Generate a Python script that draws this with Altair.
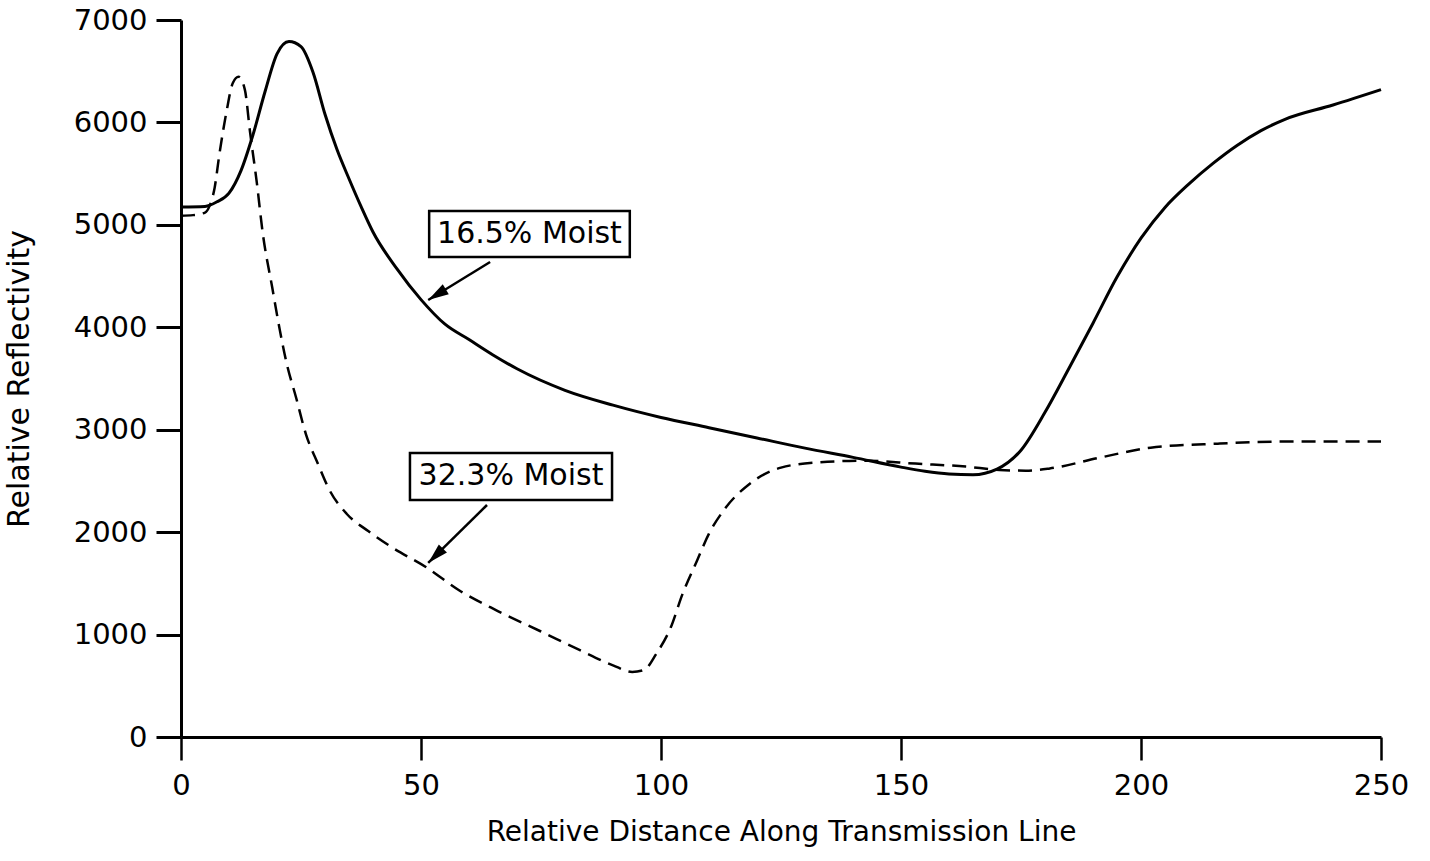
import altair as alt
import pandas as pd
import numpy as np

# ---- data ----
solid_x = [0, 5, 7.5, 10, 12.5, 15, 17.5, 20, 22.5, 25, 27.5, 30, 32.5, 35, 37.5, 40, 45,
           50, 55, 60, 65, 70, 80, 90, 100, 110, 120, 130, 140, 150, 155, 160, 165, 170,
           175, 180, 185, 190, 195, 200, 205, 210, 215, 220, 225, 230, 240, 250]
solid_y = [5175, 5180, 5225, 5310, 5530, 5880, 6300, 6670, 6790, 6740, 6490, 6080, 5735,
           5450, 5180, 4930, 4570, 4270, 4030, 3880, 3730, 3595, 3385, 3240, 3120, 3020,
           2920, 2820, 2730, 2635, 2595, 2568, 2560, 2615, 2800, 3170, 3600, 4040, 4490,
           4870, 5170, 5400, 5600, 5775, 5920, 6030, 6170, 6320]

dashed_x = [0, 2.5, 5, 6, 7, 8, 9.5, 10.8, 12, 13.3, 14.4, 15.8, 17, 19, 20.6, 22, 24, 26,
            28.5, 31, 34.5, 39, 44, 51, 58, 66, 75, 83, 90, 94, 96.5, 99, 102, 104.5,
            107.5, 110, 113.5, 118.5, 125, 132.5, 143, 153, 163.5, 170.5, 176, 181, 191.5,
            202, 216, 230, 250]
dashed_y = [5090, 5095, 5120, 5190, 5360, 5690, 6110, 6385, 6445, 6320, 5900, 5410, 4930,
            4390, 3970, 3650, 3310, 2960, 2670, 2405, 2180, 2010, 1850, 1660, 1430, 1230,
            1030, 850, 700, 635, 655, 811, 1066, 1398, 1721, 1985, 2240, 2473, 2630,
            2680, 2698, 2669, 2640, 2607, 2600, 2622, 2728, 2825, 2864, 2884, 2884]

label_text = ["16.5% Moist", "32.3% Moist"]
box_x1 = [51.7, 47.7]
box_x2 = [93.5, 89.8]
box_y1 = [4686, 2314]
box_y2 = [5135, 2773]
tail_x = [64.4, 63.75]
tail_y = [4637, 2265]
tip_x = [51.5, 51.5]
tip_y = [4266, 1699]

x_ticks = [0, 50, 100, 150, 200, 250]
y_ticks = [0, 1000, 2000, 3000, 4000, 5000, 6000, 7000]

W, H = 1200, 717
X_MAX, Y_MAX = 250, 7000
FONT = "DejaVu Sans"

solid = pd.DataFrame({"x": solid_x, "y": solid_y})
dashed = pd.DataFrame({"x": dashed_x, "y": dashed_y})

ann = pd.DataFrame({
    "label": label_text,
    "x1": box_x1, "x2": box_x2, "y1": box_y1, "y2": box_y2,
    "tx": tail_x, "ty": tail_y, "hx": tip_x, "hy": tip_y,
})
ann["cx"] = (ann["x1"] + ann["x2"]) / 2
ann["cy"] = (ann["y1"] + ann["y2"]) / 2
# arrowhead rotation from the on-screen direction tip -> tail
ux = (ann["tx"] - ann["hx"]) * W / X_MAX
uy = -(ann["ty"] - ann["hy"]) * H / Y_MAX
ann["angle"] = (np.degrees(np.arctan2(-ux, uy)) + 360) % 360

xs = alt.Scale(domain=[0, X_MAX], nice=False, zero=False)
ys = alt.Scale(domain=[0, Y_MAX], nice=False)

x_axis = alt.Axis(
    values=x_ticks, format="d", title="Relative Distance Along Transmission Line",
    tickSize=23, tickWidth=2.5, domainWidth=3, labelPadding=11, titlePadding=18,
    labelFontSize=29, titleFontSize=28, labelFont=FONT, titleFont=FONT,
    titleFontWeight="normal", labelColor="black", titleColor="black",
    domainColor="black", tickColor="black", grid=False, labelFlush=False,
)
y_axis = alt.Axis(
    values=y_ticks, format="d", title="Relative Reflectivity",
    tickSize=25, tickWidth=3, domainWidth=3, labelPadding=9,
    labelFontSize=29, titleFontSize=30, labelFont=FONT, titleFont=FONT,
    titleFontWeight="normal", labelColor="black", titleColor="black",
    domainColor="black", tickColor="black", grid=False,
    titleAngle=270, titleX=-153, titleY=H / 2, titleAlign="center",
    titleBaseline="alphabetic", labelFlush=False,
)

base_solid = alt.Chart(solid).mark_line(
    color="black", strokeWidth=3, interpolate="monotone"
).encode(
    x=alt.X("x:Q", scale=xs, axis=x_axis),
    y=alt.Y("y:Q", scale=ys, axis=y_axis),
)

line_dashed = alt.Chart(dashed).mark_line(
    color="black", strokeWidth=2.5, strokeDash=[14, 8], interpolate="monotone"
).encode(
    x=alt.X("x:Q", scale=xs),
    y=alt.Y("y:Q", scale=ys),
)

boxes = alt.Chart(ann).mark_rect(
    fill="white", stroke="black", strokeWidth=2.5
).encode(
    x=alt.X("x1:Q", scale=xs), x2="x2:Q",
    y=alt.Y("y1:Q", scale=ys), y2="y2:Q",
)

texts = alt.Chart(ann).mark_text(
    font=FONT, fontSize=30, color="black", align="center", baseline="middle"
).encode(
    x=alt.X("cx:Q", scale=xs), y=alt.Y("cy:Q", scale=ys), text="label:N",
)

arrows = alt.Chart(ann).mark_rule(color="black", strokeWidth=2.5).encode(
    x=alt.X("tx:Q", scale=xs), y=alt.Y("ty:Q", scale=ys),
    x2="hx:Q", y2="hy:Q",
)

heads = alt.Chart(ann).mark_point(
    shape="M0,0 L0.28,1 L-0.28,1 Z", filled=True, color="black", opacity=1,
    size=1700, strokeWidth=0,
).encode(
    x=alt.X("hx:Q", scale=xs), y=alt.Y("hy:Q", scale=ys),
    angle=alt.Angle("angle:Q", scale=None),
)

chart = alt.layer(base_solid, line_dashed, arrows, heads, boxes, texts).properties(
    width=W, height=H,
    autosize=alt.AutoSizeParams(type="none"),
    padding={"left": 181, "top": 20, "right": 49, "bottom": 124},
    background="white",
).configure_view(stroke=None)

chart.save("out.html", embed_options={"renderer": "svg", "actions": False})
